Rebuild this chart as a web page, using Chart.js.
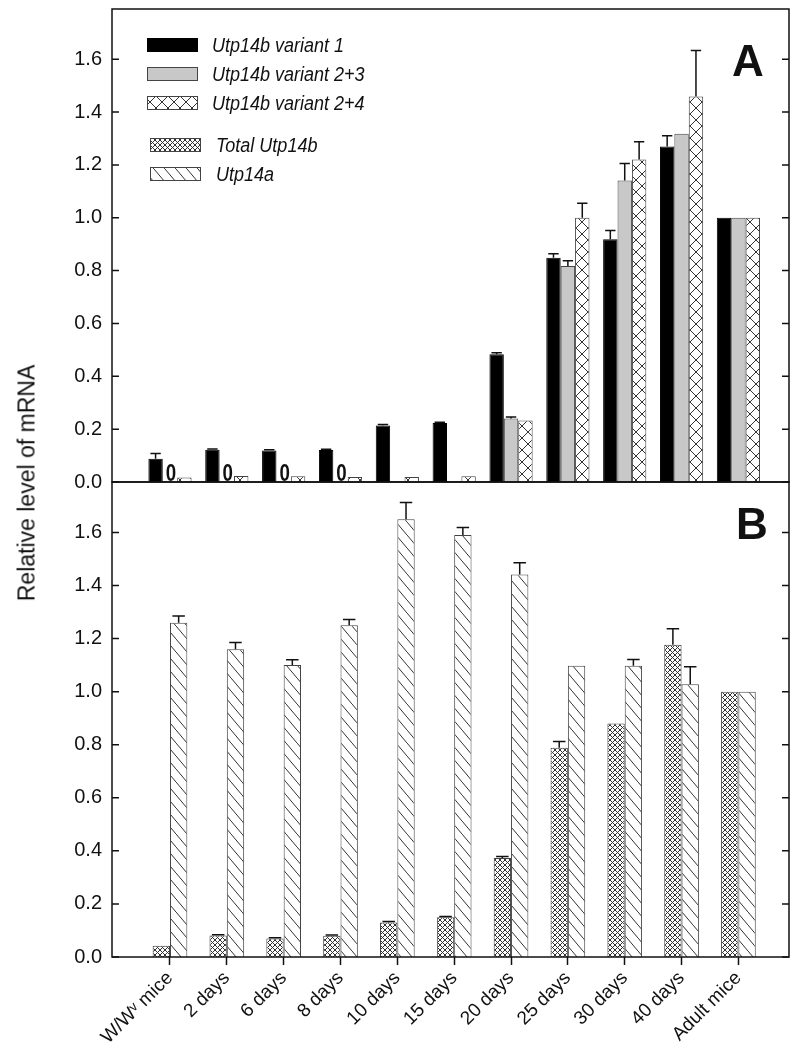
<!DOCTYPE html>
<html>
<head>
<meta charset="utf-8">
<script src="https://cdn.jsdelivr.net/npm/chart.js@4.4.1/dist/chart.umd.min.js"></script>
<style>
  html, body { margin: 0; padding: 0; background: #fff; }
  #wrap { position: relative; width: 800px; height: 1053px; overflow: hidden; }
  canvas { position: absolute; left: 0; }
  #chartA { top: 0; }
  #chartB { top: 470px; }
  #ytitle {
    position: absolute; left: 27px; top: 483px;
    transform: translate(-50%, -50%) rotate(-90deg);
    font: 23px 'Liberation Sans', Arial, sans-serif; line-height: 1;
    white-space: nowrap; color: #111;
  }
</style>
</head>
<body>
<div id="wrap">
  <canvas id="chartA" width="800" height="500"></canvas>
  <canvas id="chartB" width="800" height="583"></canvas>
  <div id="ytitle">Relative level of mRNA</div>
</div>
<script>
/* global Chart */

// ---------- Data ----------

const categories = ['W/W\u1D5B mice', '2 days', '6 days', '8 days', '10 days', '15 days',
  '20 days', '25 days', '30 days', '40 days', 'Adult mice'];
const yTicks = [0, 0.2, 0.4, 0.6, 0.8, 1.0, 1.2, 1.4, 1.6];

const seriesA = ['Utp14b variant 1', 'Utp14b variant 2+3', 'Utp14b variant 2+4'];
const seriesB = ['Total Utp14b', 'Utp14a'];

// panel A
const variant1     = [0.088, 0.122, 0.119, 0.121, 0.214, 0.223, 0.483, 0.849, 0.919, 1.27, 1.0];
const variant1Err  = [0.02, 0.003, 0.003, 0.003, 0.004, 0.003, 0.006, 0.015, 0.033, 0.04, 0];
const variant23    = [0, 0, 0, 0, 0.004, 0.004, 0.24, 0.817, 1.141, 1.318, 1.0];
const variant23Err = [0, 0, 0, 0, 0, 0, 0.006, 0.02, 0.064, 0, 0];
const variant24    = [0.017, 0.023, 0.022, 0.019, 0.019, 0.022, 0.233, 1.0, 1.22, 1.459, 1.0];
const variant24Err = [0, 0, 0, 0, 0, 0, 0, 0.055, 0.068, 0.174, 0];

// panel B
const totalUtp14b    = [0.042, 0.081, 0.07, 0.08, 0.13, 0.15, 0.373, 0.789, 0.88, 1.177, 1.0];
const totalUtp14bErr = [0, 0.003, 0.003, 0.003, 0.004, 0.003, 0.006, 0.023, 0, 0.06, 0];
const utp14a         = [1.26, 1.16, 1.10, 1.25, 1.65, 1.59, 1.441, 1.098, 1.098, 1.028, 1.0];
const utp14aErr      = [0.025, 0.025, 0.02, 0.022, 0.063, 0.029, 0.045, 0, 0.023, 0.066, 0];

// ---------- Style ----------

const FONT = "'Liberation Sans', Arial, sans-serif";
const INK = '#111';
const X_MIN = -1.02;
const X_MAX = 10.89;
const Y_MAX = 1.79;

function makePattern(w, h, draw) {
  const c = document.createElement('canvas');
  c.width = w; c.height = h;
  const g = c.getContext('2d');
  g.fillStyle = '#fff';
  g.fillRect(0, 0, w, h);
  g.strokeStyle = '#333';
  g.lineWidth = 1;
  draw(g, w, h);
  return g.createPattern(c, 'repeat');
}

function crossLines(g, w, h) {
  g.beginPath();
  g.moveTo(-w, -h); g.lineTo(2 * w, 2 * h);
  g.moveTo(2 * w, -h); g.lineTo(-w, 2 * h);
  g.stroke();
}

const wideCross = makePattern(12, 12, crossLines);
const denseCross = makePattern(5, 5, crossLines);
const diagonal = makePattern(11, 13, (g, w, h) => {
  g.beginPath();
  g.moveTo(-w, -h); g.lineTo(2 * w, 2 * h);
  g.stroke();
});

const fills = {
  v1: { bg: '#000', border: '#000' },
  v23: { bg: '#c8c8c8', border: '#444' },
  v24: { bg: wideCross, border: '#444' },
  total: { bg: denseCross, border: '#444' },
  a: { bg: diagonal, border: '#444' },
};

function points(values) {
  return values.map((v, i) => ({ x: i, y: v }));
}

function barSet(label, values, errors, fill, extra) {
  return Object.assign({
    label,
    data: points(values),
    errors,
    backgroundColor: fill.bg,
    borderColor: fill.border,
    borderWidth: 1,
  }, extra || {});
}

// ---------- Plugins ----------

const errorBars = {
  id: 'errorBars',
  afterDatasetsDraw(chart) {
    const { ctx } = chart;
    const y = chart.scales.y;
    ctx.save();
    ctx.strokeStyle = INK;
    ctx.lineWidth = 1.5;
    chart.data.datasets.forEach((ds, di) => {
      if (!ds.errors) return;
      chart.getDatasetMeta(di).data.forEach((bar, i) => {
        const e = ds.errors[i];
        if (!e) return;
        const v = ds.data[i].y;
        const y0 = y.getPixelForValue(v);
        const y1 = y.getPixelForValue(v + e);
        const half = bar.width * 0.36;
        ctx.beginPath();
        ctx.moveTo(bar.x, y0); ctx.lineTo(bar.x, y1);
        ctx.moveTo(bar.x - half, y1); ctx.lineTo(bar.x + half, y1);
        ctx.stroke();
      });
    });
    ctx.restore();
  },
};

// "0" marks where a variant was not detected
const zeroMarks = {
  id: 'zeroMarks',
  afterDatasetsDraw(chart) {
    const { ctx } = chart;
    ctx.save();
    ctx.fillStyle = INK;
    ctx.font = `bold 24px ${FONT}`;
    ctx.textAlign = 'center';
    ctx.textBaseline = 'alphabetic';
    chart.data.datasets.forEach((ds, di) => {
      if (!ds.zeroMark) return;
      chart.getDatasetMeta(di).data.forEach((bar, i) => {
        if (ds.data[i].y !== 0) return;
        ctx.save();
        ctx.translate(bar.x + 1, chart.chartArea.bottom - 1);
        ctx.scale(0.78, 1);
        ctx.fillText('0', 0, 0);
        ctx.restore();
      });
    });
    ctx.restore();
  },
};

const frame = {
  id: 'frame',
  afterDraw(chart, args, opts) {
    const { ctx, chartArea: a } = chart;
    const y = chart.scales.y;
    ctx.save();
    ctx.strokeStyle = INK;
    ctx.lineWidth = 1.5;
    ctx.strokeRect(a.left, a.top, a.right - a.left, a.bottom - a.top);
    ctx.beginPath();
    yTicks.forEach(v => {
      const p = y.getPixelForValue(v);
      ctx.moveTo(a.left, p); ctx.lineTo(a.left + 7, p);
      ctx.moveTo(a.right - 7, p); ctx.lineTo(a.right, p);
    });
    ctx.stroke();
    ctx.fillStyle = INK;
    ctx.font = `bold 44px ${FONT}`;
    ctx.textAlign = 'center';
    ctx.fillText(opts.letter, opts.x, opts.y);
    ctx.restore();
  },
};

const keyBox = {
  id: 'keyBox',
  afterDraw(chart, args, opts) {
    const { ctx } = chart;
    ctx.save();
    opts.items.forEach(it => {
      ctx.fillStyle = it.fill.bg;
      ctx.fillRect(it.x, it.y, 51, 14);
      ctx.strokeStyle = it.fill.border;
      ctx.lineWidth = 1;
      ctx.strokeRect(it.x + 0.5, it.y + 0.5, 50, 13);
      ctx.save();
      ctx.fillStyle = INK;
      ctx.font = `italic 20px ${FONT}`;
      ctx.textBaseline = 'middle';
      ctx.scale(0.9, 1);
      ctx.fillText(it.label, it.tx / 0.9, it.y + 8);
      ctx.restore();
    });
    ctx.restore();
  },
};

// ---------- Scales ----------

function xScale(show) {
  return {
    type: 'linear',
    min: X_MIN,
    max: X_MAX,
    display: show,
    offset: false,
    afterBuildTicks: s => { s.ticks = categories.map((c, i) => ({ value: i })); },
    afterFit: s => { if (show) s.height = 96; s.paddingLeft = 0; s.paddingRight = 0; },
    grid: { offset: false, drawOnChartArea: false, drawTicks: true, tickLength: 8, tickColor: INK, tickWidth: 1.5 },
    border: { display: false },
    ticks: {
      autoSkip: false, maxRotation: 45, minRotation: 45, padding: 2,
      color: INK, font: { family: FONT, size: 19 },
      callback: v => categories[v],
    },
  };
}

function yScale() {
  return {
    min: 0,
    max: Y_MAX,
    afterBuildTicks: s => { s.ticks = yTicks.map(v => ({ value: v })); },
    afterFit: s => { s.width = 112; s.paddingTop = 0; s.paddingBottom = 0; },
    grid: { display: false, drawTicks: false },
    border: { display: false },
    ticks: { padding: 10, color: INK, font: { family: FONT, size: 20 }, callback: v => v.toFixed(1) },
  };
}

function baseOptions(pad, catPct, plugins) {
  return {
    responsive: false,
    animation: false,
    layout: { padding: pad },
    datasets: { bar: { categoryPercentage: catPct, barPercentage: 1, grouped: true } },
    plugins: Object.assign({ legend: { display: false }, tooltip: { enabled: false } }, plugins),
  };
}

// ---------- Charts ----------

const optsA = baseOptions({ top: 9, right: 11, left: 0, bottom: 18 }, 0.76, {
  frame: { letter: 'A', x: 748, y: 76 },
  keyBox: {
    items: [
      { label: seriesA[0], fill: fills.v1, x: 147, y: 38, tx: 212 },
      { label: seriesA[1], fill: fills.v23, x: 147, y: 67, tx: 212 },
      { label: seriesA[2], fill: fills.v24, x: 147, y: 96, tx: 212 },
      { label: seriesB[0], fill: fills.total, x: 150, y: 138, tx: 216 },
      { label: seriesB[1], fill: fills.a, x: 150, y: 167, tx: 216 },
    ],
  },
});
optsA.scales = { x: xScale(false), y: yScale() };

new Chart(document.getElementById('chartA'), {
  type: 'bar',
  data: {
    datasets: [
      barSet(seriesA[0], variant1, variant1Err, fills.v1),
      barSet(seriesA[1], variant23, variant23Err, fills.v23, { zeroMark: true }),
      barSet(seriesA[2], variant24, variant24Err, fills.v24),
    ],
  },
  options: optsA,
  plugins: [errorBars, zeroMarks, frame, keyBox],
});

const optsB = baseOptions({ top: 12, right: 11, left: 0, bottom: 0 }, 0.61, {
  frame: { letter: 'B', x: 752, y: 69 },
});
optsB.scales = { x: xScale(true), y: yScale() };

new Chart(document.getElementById('chartB'), {
  type: 'bar',
  data: {
    datasets: [
      barSet(seriesB[0], totalUtp14b, totalUtp14bErr, fills.total),
      barSet(seriesB[1], utp14a, utp14aErr, fills.a),
    ],
  },
  options: optsB,
  plugins: [errorBars, frame],
});
</script>
</body>
</html>
